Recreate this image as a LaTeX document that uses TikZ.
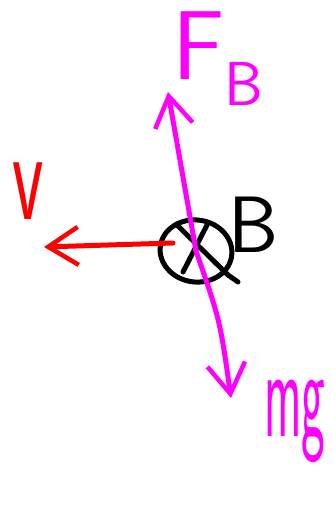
\documentclass[tikz,border=0pt]{standalone}
\usetikzlibrary{arrows.meta,shapes.geometric}
\definecolor{pinkm}{RGB}{255,0,255}
\definecolor{redv}{RGB}{255,0,0}
\tikzset{
  x=1pt,y=-1pt,
  pen/.style={line width=5pt,line cap=round,line join=round},
  barb/.style={-{Straight Barb[length=30pt,width=38pt,line width=4.5pt]}},
  lbl/.style={inner sep=0pt,font=\sffamily},
}
\begin{document}
\begin{tikzpicture}
\useasboundingbox (0,0) rectangle (334,518);
% object (B into page)
\node[ellipse,draw,pen,minimum width=72pt,minimum height=62pt,inner sep=0pt,rotate=-8] (obj) at (196,251) {};
\coordinate (x1) at (177,225);
\coordinate (x2) at (228,275);
\coordinate (x3) at (207,225);
\coordinate (x4) at (183,272);
\coordinate (t1) at (238,282);
\draw[pen] (x1) -- (x2);
\draw[pen] (x3) -- (x4);
\draw[pen] (x2) -- (t1);
% forces
\coordinate (fbtip) at (168,92);
\coordinate (mgtip) at (231,398);
\coordinate (vstart) at (173,243);
\coordinate (vtip) at (44,247);
\draw[pen,pinkm,barb] (obj.center) .. controls (180,160) .. (fbtip);
\draw[pen,pinkm,barb] (obj.center) .. controls (220,320) .. (mgtip);
\draw[pen,redv,barb] (vstart) -- (vtip);
% labels
\node[lbl,pinkm,anchor=base west] (fb) at (172,80) {\fontsize{98}{98}\selectfont F\raisebox{-26pt}{\fontsize{62}{62}\selectfont B}};
\node[lbl,redv,anchor=base west] (v) at (12,220) {\scalebox{0.55}[1]{\fontsize{132}{132}\selectfont v}};
\node[lbl,black,anchor=base west] (blbl) at (228,252) {\fontsize{80}{80}\selectfont B};
\node[lbl,pinkm,anchor=base west] (mg) at (264,436) {\scalebox{0.45}[1.15]{\fontsize{112}{112}\selectfont mg}};
\end{tikzpicture}
\end{document}
